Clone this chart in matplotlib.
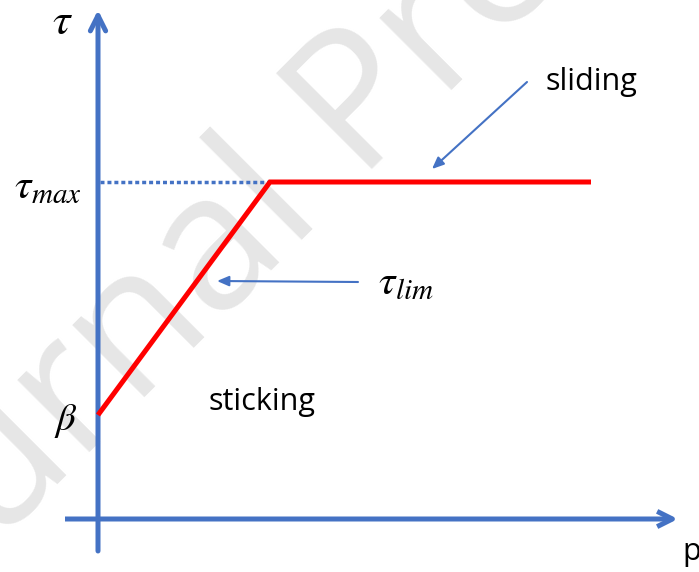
import matplotlib
matplotlib.use('Agg')
import matplotlib.pyplot as plt

plt.rcParams['mathtext.fontset'] = 'stix'

# schematic friction law: tau vs p (units are arbitrary, roughly pixels)
beta = 104
tau_max = 337
x_kink = 172
x_end = 493
curve_x = [0, x_kink, x_end]
curve_y = [beta, tau_max, tau_max]

x_axis_span = [-33, 580]
y_axis_span = [-32, 509]

blue = '#4472C4'

fig = plt.figure(figsize=(6.99, 5.72), dpi=100)
ax = fig.add_axes([0, 0, 1, 1])
ax.set_xlim(-98, 601)
ax.set_ylim(-53, 519)
ax.axis('off')

# watermark
ax.text(-214, -154, 'Journal Pre-proof', rotation=45, rotation_mode='anchor',
        ha='left', va='baseline', fontsize=137, family='Open Sans',
        color='#e6e6e6', zorder=0)

# axes drawn as arrows
ax.annotate('', xy=(x_axis_span[1], 0), xytext=(x_axis_span[0], 0),
            arrowprops=dict(arrowstyle='->,head_length=1.1,head_width=0.55',
                            lw=3.6, color=blue, shrinkA=0, shrinkB=0,
                            capstyle='butt'), zorder=2)
ax.annotate('', xy=(0, y_axis_span[1]), xytext=(0, y_axis_span[0]),
            arrowprops=dict(arrowstyle='->,head_length=1.1,head_width=0.55',
                            lw=3.6, color=blue, shrinkA=0, shrinkB=0), zorder=2)

# dotted guide at tau_max
ax.plot([2, x_kink], [tau_max, tau_max], color=blue, lw=2.5,
        dashes=(1.15, 0.85), dash_capstyle='butt', zorder=3)

# friction curve
ax.plot(curve_x, curve_y, color='red', lw=3.6, solid_capstyle='butt',
        solid_joinstyle='miter', zorder=4)

# annotation arrows
ax.annotate('', xy=(334, 350), xytext=(429, 437),
            arrowprops=dict(arrowstyle='-|>,head_length=0.7,head_width=0.3',
                            lw=1.5, color=blue, shrinkA=0, shrinkB=0), zorder=5)
ax.annotate('', xy=(119, 238), xytext=(260, 237),
            arrowprops=dict(arrowstyle='-|>,head_length=0.7,head_width=0.3',
                            lw=1.5, color=blue, shrinkA=0, shrinkB=0), zorder=5)

# labels
ax.text(-36, 498, r'$\tau$', fontsize=32, ha='center', va='center')
ax.text(-50, 333, r'$\tau_{max}$', fontsize=30, ha='center', va='center')
ax.text(-32, 98, r'$\beta$', fontsize=28, ha='center', va='center')
ax.text(308, 237, r'$\tau_{lim}$', fontsize=30, ha='center', va='center')
ax.text(493, 437, 'sliding', fontsize=22, family='Open Sans', ha='center', va='center')
ax.text(164, 117, 'sticking', fontsize=22, family='Open Sans', ha='center', va='center')
ax.text(584, -18, 'p', fontsize=22, family='Open Sans', ha='left', va='top')

fig.savefig('out.png', dpi=100)
